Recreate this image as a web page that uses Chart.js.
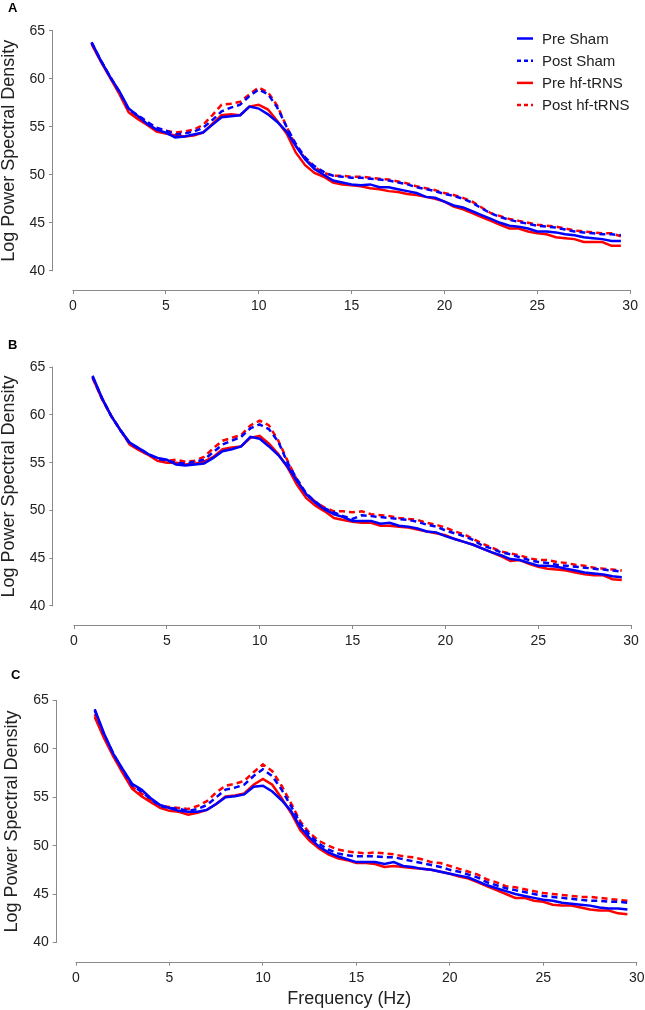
<!DOCTYPE html>
<html>
<head>
<meta charset="utf-8">
<script src="https://cdn.jsdelivr.net/npm/chart.js@4.4.1/dist/chart.umd.min.js"></script>
<style>
  body { margin: 0; background: #fff; }
  #wrap { position: relative; width: 645px; height: 1010px; }
  canvas { position: absolute; left: 0; }
</style>
</head>
<body>
<div id="wrap">
  <canvas id="chartA" width="645" height="330" style="top:0px"></canvas>
  <canvas id="chartB" width="645" height="330" style="top:330px"></canvas>
  <canvas id="chartC" width="645" height="350" style="top:660px"></canvas>
</div>
<script>
// ==================================================
// DATA
// ==================================================
const freqs = [1, 1.5, 2, 2.5, 3, 3.5, 4, 4.5, 5, 5.5, 6, 6.5, 7, 7.5, 8, 8.5, 9, 9.5, 10, 10.5,
  11, 11.5, 12, 12.5, 13, 13.5, 14, 14.5, 15, 15.5, 16, 16.5, 17, 17.5, 18, 18.5, 19, 19.5, 20, 20.5,
  21, 21.5, 22, 22.5, 23, 23.5, 24, 24.5, 25, 25.5, 26, 26.5, 27, 27.5, 28, 28.5, 29, 29.5];

const xTicks = [0, 5, 10, 15, 20, 25, 30];
const yTicks = [40, 45, 50, 55, 60, 65];
const seriesNames = ["Pre Sham", "Post Sham", "Pre hf-tRNS", "Post hf-tRNS"];

// Panel A
const preShamA = [63.8, 61.9, 60.2, 58.7, 56.9, 56.1, 55.3, 54.7, 54.4, 53.9, 54.0, 54.2, 54.4, 55.2, 56.0, 56.1, 56.2, 57.1, 56.9, 56.3,
  55.5, 54.5, 53.0, 51.6, 50.6, 50.0, 49.4, 49.2, 49.0, 48.9, 49.0, 48.7, 48.7, 48.5, 48.3, 48.1, 47.7, 47.6, 47.2, 46.8,
  46.6, 46.2, 45.8, 45.4, 45.0, 44.7, 44.6, 44.4, 44.1, 44.1, 44.0, 43.8, 43.7, 43.5, 43.4, 43.3, 43.1, 43.1];
const postShamA = [63.8, 61.9, 60.2, 58.6, 56.8, 56.2, 55.5, 54.9, 54.6, 54.2, 54.3, 54.5, 54.9, 55.7, 56.6, 57.0, 57.3, 58.2, 58.9, 58.4,
  57.0, 55.0, 53.2, 51.8, 50.9, 50.3, 49.9, 49.8, 49.7, 49.7, 49.6, 49.5, 49.4, 49.2, 49.0, 48.7, 48.5, 48.3, 48.0, 47.8,
  47.5, 47.1, 46.5, 46.0, 45.6, 45.3, 45.1, 44.9, 44.7, 44.6, 44.5, 44.3, 44.1, 44.0, 43.9, 43.8, 43.8, 43.7];
const preTrnsA = [63.6, 61.8, 60.1, 58.4, 56.5, 55.8, 55.2, 54.5, 54.3, 54.1, 54.0, 54.1, 54.4, 55.3, 56.2, 56.3, 56.2, 57.1, 57.3, 56.8,
  55.6, 54.3, 52.3, 51.0, 50.2, 49.8, 49.2, 49.0, 48.9, 48.8, 48.6, 48.5, 48.3, 48.2, 48.0, 47.9, 47.7, 47.5, 47.2, 46.7,
  46.4, 46.0, 45.6, 45.2, 44.8, 44.4, 44.4, 44.1, 43.9, 43.8, 43.5, 43.4, 43.3, 43.0, 43.0, 43.0, 42.6, 42.6];
const postTrnsA = [63.7, 61.9, 60.2, 58.6, 56.7, 56.0, 55.3, 54.8, 54.6, 54.4, 54.5, 54.7, 55.2, 56.2, 57.3, 57.4, 57.6, 58.4, 59.1, 58.6,
  57.2, 55.0, 53.0, 51.7, 50.8, 50.2, 49.9, 49.9, 49.8, 49.8, 49.7, 49.6, 49.5, 49.3, 49.1, 48.8, 48.6, 48.4, 48.1, 47.9,
  47.6, 47.2, 46.6, 46.0, 45.7, 45.4, 45.2, 45.0, 44.8, 44.7, 44.6, 44.4, 44.2, 44.1, 44.0, 43.9, 43.9, 43.6];

// Panel B
const preShamB = [64.1, 61.8, 59.9, 58.4, 57.1, 56.5, 55.9, 55.5, 55.3, 54.8, 54.7, 54.8, 54.9, 55.5, 56.2, 56.4, 56.7, 57.7, 57.5, 56.7,
  55.8, 54.6, 53.1, 51.7, 50.8, 50.1, 49.6, 49.3, 48.9, 48.9, 48.9, 48.6, 48.7, 48.4, 48.3, 48.1, 47.8, 47.7, 47.3, 47.0,
  46.7, 46.4, 46.0, 45.6, 45.3, 44.9, 44.8, 44.5, 44.2, 44.2, 44.1, 43.9, 43.7, 43.5, 43.4, 43.3, 43.1, 43.0];
const postShamB = [64.0, 61.8, 59.9, 58.4, 57.0, 56.5, 55.9, 55.4, 55.2, 55.0, 54.9, 55.1, 55.3, 56.1, 56.9, 57.3, 57.7, 58.6, 59.0, 58.5,
  57.2, 55.0, 53.3, 51.8, 50.9, 50.2, 49.8, 49.4, 49.1, 49.5, 49.4, 49.3, 49.2, 49.1, 49.0, 48.8, 48.5, 48.3, 47.9, 47.6,
  47.3, 46.9, 46.3, 46.0, 45.6, 45.4, 45.1, 44.8, 44.6, 44.5, 44.3, 44.2, 44.1, 44.0, 43.9, 43.8, 43.7, 43.6];
const preTrnsB = [63.9, 61.7, 59.9, 58.4, 56.9, 56.3, 55.8, 55.2, 55.0, 55.0, 54.8, 54.9, 55.1, 55.6, 56.4, 56.6, 56.7, 57.6, 57.8, 57.0,
  55.9, 54.5, 52.7, 51.3, 50.5, 49.9, 49.2, 49.0, 48.8, 48.7, 48.7, 48.4, 48.4, 48.3, 48.2, 48.0, 47.8, 47.6, 47.4, 47.0,
  46.7, 46.4, 46.0, 45.6, 45.2, 44.7, 44.8, 44.4, 44.1, 43.9, 43.8, 43.7, 43.5, 43.3, 43.2, 43.2, 42.8, 42.7];
const postTrnsB = [63.9, 61.7, 59.9, 58.4, 57.0, 56.4, 55.8, 55.4, 55.2, 55.3, 55.1, 55.2, 55.6, 56.5, 57.3, 57.6, 57.9, 58.9, 59.4, 58.9,
  57.3, 55.2, 53.2, 51.7, 50.9, 50.3, 49.9, 49.9, 49.8, 49.9, 49.6, 49.5, 49.4, 49.2, 49.1, 49.0, 48.7, 48.5, 48.2, 47.8,
  47.5, 47.0, 46.5, 46.1, 45.7, 45.5, 45.3, 45.0, 44.8, 44.8, 44.6, 44.5, 44.3, 44.2, 44.0, 43.9, 43.8, 43.7];

// Panel C
const preShamC = [64.1, 61.6, 59.5, 57.9, 56.4, 55.8, 54.9, 54.2, 53.9, 53.6, 53.5, 53.5, 53.7, 54.3, 55.0, 55.1, 55.3, 56.1, 56.2, 55.6,
  54.7, 53.6, 51.9, 50.8, 49.9, 49.3, 48.9, 48.6, 48.3, 48.3, 48.3, 48.1, 48.3, 47.9, 47.8, 47.6, 47.5, 47.3, 47.1, 46.9,
  46.7, 46.3, 45.9, 45.6, 45.3, 45.0, 44.8, 44.6, 44.4, 44.3, 44.1, 44.0, 43.9, 43.8, 43.6, 43.5, 43.5, 43.4];
const postShamC = [64.0, 61.5, 59.5, 57.8, 56.2, 55.6, 54.8, 54.1, 53.9, 53.8, 53.6, 53.8, 54.2, 55.0, 55.8, 56.0, 56.3, 57.2, 57.9, 57.2,
  55.8, 54.1, 52.3, 51.1, 50.2, 49.6, 49.2, 49.0, 48.9, 48.9, 48.9, 48.8, 48.8, 48.6, 48.4, 48.2, 48.0, 47.8, 47.5, 47.3,
  47.0, 46.7, 46.2, 45.9, 45.6, 45.4, 45.2, 45.0, 44.8, 44.7, 44.6, 44.5, 44.4, 44.3, 44.3, 44.2, 44.2, 44.1];
const preTrnsC = [63.3, 61.1, 59.2, 57.5, 55.9, 55.1, 54.5, 53.9, 53.6, 53.5, 53.2, 53.4, 53.7, 54.3, 55.1, 55.2, 55.4, 56.3, 56.9, 56.3,
  54.9, 53.4, 51.6, 50.5, 49.7, 49.1, 48.7, 48.5, 48.2, 48.2, 48.1, 47.8, 47.9, 47.8, 47.7, 47.6, 47.5, 47.3, 47.1, 46.8,
  46.6, 46.2, 45.8, 45.4, 45.0, 44.6, 44.6, 44.3, 44.2, 43.9, 43.8, 43.8, 43.6, 43.4, 43.3, 43.3, 43.0, 42.9];
const postTrnsC = [63.6, 61.3, 59.3, 57.7, 56.1, 55.4, 54.7, 54.1, 54.0, 53.9, 53.8, 54.1, 54.6, 55.5, 56.2, 56.4, 56.7, 57.6, 58.4, 57.7,
  56.2, 54.4, 52.5, 51.3, 50.5, 50.0, 49.6, 49.4, 49.3, 49.2, 49.3, 49.2, 49.1, 48.9, 48.8, 48.6, 48.3, 48.2, 47.9, 47.6,
  47.3, 47.0, 46.5, 46.2, 45.8, 45.7, 45.5, 45.3, 45.1, 45.0, 44.9, 44.8, 44.7, 44.7, 44.6, 44.5, 44.4, 44.3];

// ==================================================
// STYLE
// ==================================================
const BLUE = "#0000ff";
const RED = "#ff0000";
const AXIS_GREY = "#8a8a8a";
const TEXT = "#222222";
const FONT = "'Liberation Sans', Arial, sans-serif";
const DASH = [6, 4];

// ==================================================
// PLUGINS
// ==================================================
// R-style axis lines that only span the tick range
const axisLines = {
  id: "axisLines",
  afterDatasetsDraw(chart) {
    const { ctx, chartArea, scales: { x, y } } = chart;
    ctx.save();
    ctx.strokeStyle = AXIS_GREY;
    ctx.lineWidth = 1;
    ctx.beginPath();
    const lx = Math.round(chartArea.left) - 0.5;
    ctx.moveTo(lx, y.getPixelForValue(yTicks[0]) + 0.5);
    ctx.lineTo(lx, y.getPixelForValue(yTicks[yTicks.length - 1]) - 0.5);
    const by = Math.round(chartArea.bottom) + 0.5;
    ctx.moveTo(x.getPixelForValue(xTicks[0]) - 0.5, by);
    ctx.lineTo(x.getPixelForValue(xTicks[xTicks.length - 1]) + 0.5, by);
    ctx.stroke();
    ctx.restore();
  }
};

const panelLetter = {
  id: "panelLetter",
  afterDraw(chart, args, opts) {
    const ctx = chart.ctx;
    ctx.save();
    ctx.font = "bold 13px " + FONT;
    ctx.fillStyle = "#000";
    ctx.textBaseline = "top";
    ctx.fillText(opts.text, opts.x, opts.y);
    ctx.restore();
  }
};

const lineLegend = {
  id: "lineLegend",
  afterDraw(chart, args, opts) {
    if (!opts.show) return;
    const ctx = chart.ctx;
    ctx.save();
    ctx.font = "15px " + FONT;
    ctx.textBaseline = "middle";
    chart.data.datasets.forEach((ds, i) => {
      const yy = opts.y + i * opts.step;
      ctx.strokeStyle = ds.borderColor;
      ctx.lineWidth = 2.5;
      ctx.setLineDash(ds.borderDash.length ? [4, 3] : []);
      ctx.beginPath();
      ctx.moveTo(opts.x, yy);
      ctx.lineTo(opts.x + 16, yy);
      ctx.stroke();
      ctx.setLineDash([]);
      ctx.fillStyle = TEXT;
      ctx.fillText(ds.label, opts.x + 25, yy + 1);
    });
    ctx.restore();
  }
};

// ==================================================
// CHART BUILDER
// ==================================================
function toPoints(values) {
  return freqs.map((f, i) => ({ x: f, y: values[i] }));
}

function makePanel(canvasId, letter, series, geo) {
  const datasets = [
    { label: seriesNames[0], data: toPoints(series[0]), borderColor: BLUE, borderDash: [], order: 0 },
    { label: seriesNames[1], data: toPoints(series[1]), borderColor: BLUE, borderDash: DASH, order: 1 },
    { label: seriesNames[2], data: toPoints(series[2]), borderColor: RED, borderDash: [], order: 2 },
    { label: seriesNames[3], data: toPoints(series[3]), borderColor: RED, borderDash: DASH, order: 3 }
  ];

  const tickFont = { family: FONT, size: 14 };

  return new Chart(document.getElementById(canvasId), {
    type: "line",
    data: { datasets },
    options: {
      responsive: false,
      animation: false,
      events: [],
      layout: { padding: { left: geo.padLeft, right: geo.padRight, top: geo.padTop, bottom: 0 } },
      elements: {
        point: { radius: 0 },
        line: { borderWidth: 2.5, tension: 0, fill: false }
      },
      plugins: {
        legend: { display: false },
        tooltip: { enabled: false },
        panelLetter: { text: letter, x: geo.letterX, y: geo.letterY },
        lineLegend: { show: !!geo.legend, x: 517, y: 38.5, step: 22.2 }
      },
      scales: {
        x: {
          type: "linear",
          min: geo.xMin,
          max: geo.xMax,
          afterBuildTicks: s => { s.ticks = xTicks.map(v => ({ value: v })); },
          afterFit: s => { s.height = geo.xAxisHeight; s.paddingLeft = 0; s.paddingRight = 0; },
          border: { display: false },
          grid: { display: true, drawOnChartArea: false, drawTicks: true, tickLength: 4, color: AXIS_GREY },
          ticks: { font: tickFont, color: TEXT, padding: 4, autoSkip: false, maxRotation: 0 },
          title: {
            display: !!geo.xTitle,
            text: "Frequency (Hz)",
            color: TEXT,
            font: { family: FONT, size: 18 },
            padding: 0
          }
        },
        y: {
          type: "linear",
          min: 38,
          max: 67,
          afterBuildTicks: s => { s.ticks = yTicks.map(v => ({ value: v })); },
          afterFit: s => { s.width = geo.yAxisWidth; s.paddingTop = 0; s.paddingBottom = 0; },
          border: { display: false },
          grid: { display: true, drawOnChartArea: false, drawTicks: true, tickLength: 4, color: AXIS_GREY },
          ticks: { font: tickFont, color: TEXT, padding: 4 },
          title: {
            display: true,
            text: "Log Power Spectral Density",
            color: TEXT,
            font: { family: FONT, size: 18, lineHeight: 1 },
            padding: 0
          }
        }
      }
    },
    plugins: [axisLines, panelLetter, lineLegend]
  });
}

// ==================================================
// PANELS
// ==================================================
makePanel("chartA", "A", [preShamA, postShamA, preTrnsA, postTrnsA], {
  padLeft: 0, yAxisWidth: 53, padRight: 5, padTop: 11.6, xAxisHeight: 40,
  xMin: -1.077, xMax: 30.53, letterX: 8, letterY: 2, legend: true
});

makePanel("chartB", "B", [preShamB, postShamB, preTrnsB, postTrnsB], {
  padLeft: 0, yAxisWidth: 53.3, padRight: 5, padTop: 18.05, xAxisHeight: 35,
  xMin: -1.115, xMax: 30.48, letterX: 8, letterY: 9
});

makePanel("chartC", "C", [preShamC, postShamC, preTrnsC, postTrnsC], {
  padLeft: 3.4, yAxisWidth: 53.3, padRight: 3, padTop: 21.27, xAxisHeight: 48.3,
  xMin: -1.033, xMax: 30.28, letterX: 11, letterY: 9, xTitle: true
});
</script>
</body>
</html>
